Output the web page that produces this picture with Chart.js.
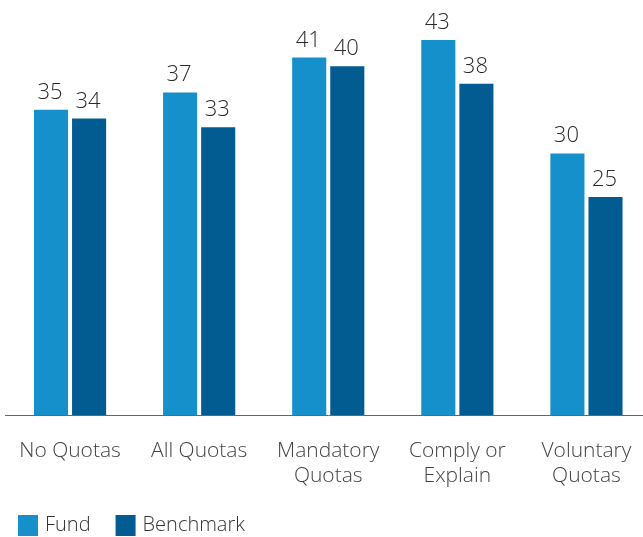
<!DOCTYPE html>
<html lang="en">
<head>
  <meta charset="UTF-8">
  <title>Fund vs Benchmark</title>
  <style>
    html, body { margin: 0; padding: 0; background: #fff; overflow: hidden; }
    #wrap { width: 651px; height: 537px; }
  </style>
  <script src="https://cdn.jsdelivr.net/npm/chart.js"></script>
</head>
<body>
  <div id="wrap">
    <canvas id="myChart" width="651" height="537"></canvas>
  </div>
  <script>
    const categories = [['No Quotas'], ['All Quotas'], ['Mandatory', 'Quotas'], ['Comply or', 'Explain'], ['Voluntary', 'Quotas']];
    const fund = [35, 37, 41, 43, 30];
    const benchmark = [34, 33, 40, 38, 25];

    const FONT = '"Open Sans", "Noto Sans", sans-serif';

    // value labels over each bar
    const valueLabels = {
      id: 'valueLabels',
      afterDatasetsDraw(chart) {
        const c = chart.ctx;
        c.save();
        c.font = '300 22px ' + FONT;
        c.fillStyle = '#2a2a2a';
        c.textAlign = 'center';
        c.textBaseline = 'alphabetic';
        chart.data.datasets.forEach((ds, i) => {
          chart.getDatasetMeta(i).data.forEach((bar, j) => {
            c.fillText(ds.data[j], bar.x - 1, bar.y - 11);
          });
        });
        c.restore();
      }
    };

    // legend bottom-left with square swatches
    const squareLegend = {
      id: 'squareLegend',
      afterDraw(chart) {
        const c = chart.ctx;
        c.save();
        c.font = '300 20px ' + FONT;
        c.textBaseline = 'middle';
        let x = 18;
        const y = 515;
        chart.data.datasets.forEach(ds => {
          c.fillStyle = ds.backgroundColor;
          c.fillRect(x, y, 20, 21);
          c.fillStyle = '#333';
          c.fillText(ds.label, x + 27, y + 10);
          x += 27 + c.measureText(ds.label).width + 25;
        });
        c.restore();
      }
    };

    const ctx = document.getElementById('myChart').getContext('2d');
    const myChart = new Chart(ctx, {
      type: 'bar',
      data: {
        labels: categories,
        datasets: [
          { label: 'Fund', data: fund, backgroundColor: '#1590cb' },
          { label: 'Benchmark', data: benchmark, backgroundColor: '#035c91' }
        ]
      },
      options: {
        responsive: false,
        animation: false,
        layout: { padding: { left: 5.5, right: 0, top: 0, bottom: 0 } },
        barPercentage: 0.895,
        categoryPercentage: 0.59,
        plugins: { legend: { display: false }, tooltip: { enabled: false } },
        scales: {
          x: {
            grid: { display: false, drawTicks: false },
            border: { display: true, color: '#666', width: 1 },
            ticks: {
              color: '#444',
              padding: 23,
              font: { family: FONT, size: 21, weight: 300, lineHeight: 1.2 },
              maxRotation: 0
            },
            afterFit(scale) {
              scale.height = 122;
              scale.paddingLeft = 0;
              scale.paddingRight = 0;
            }
          },
          y: {
            display: false,
            min: 0,
            max: 47.6
          }
        }
      },
      plugins: [valueLabels, squareLegend]
    });
  </script>
</body>
</html>
